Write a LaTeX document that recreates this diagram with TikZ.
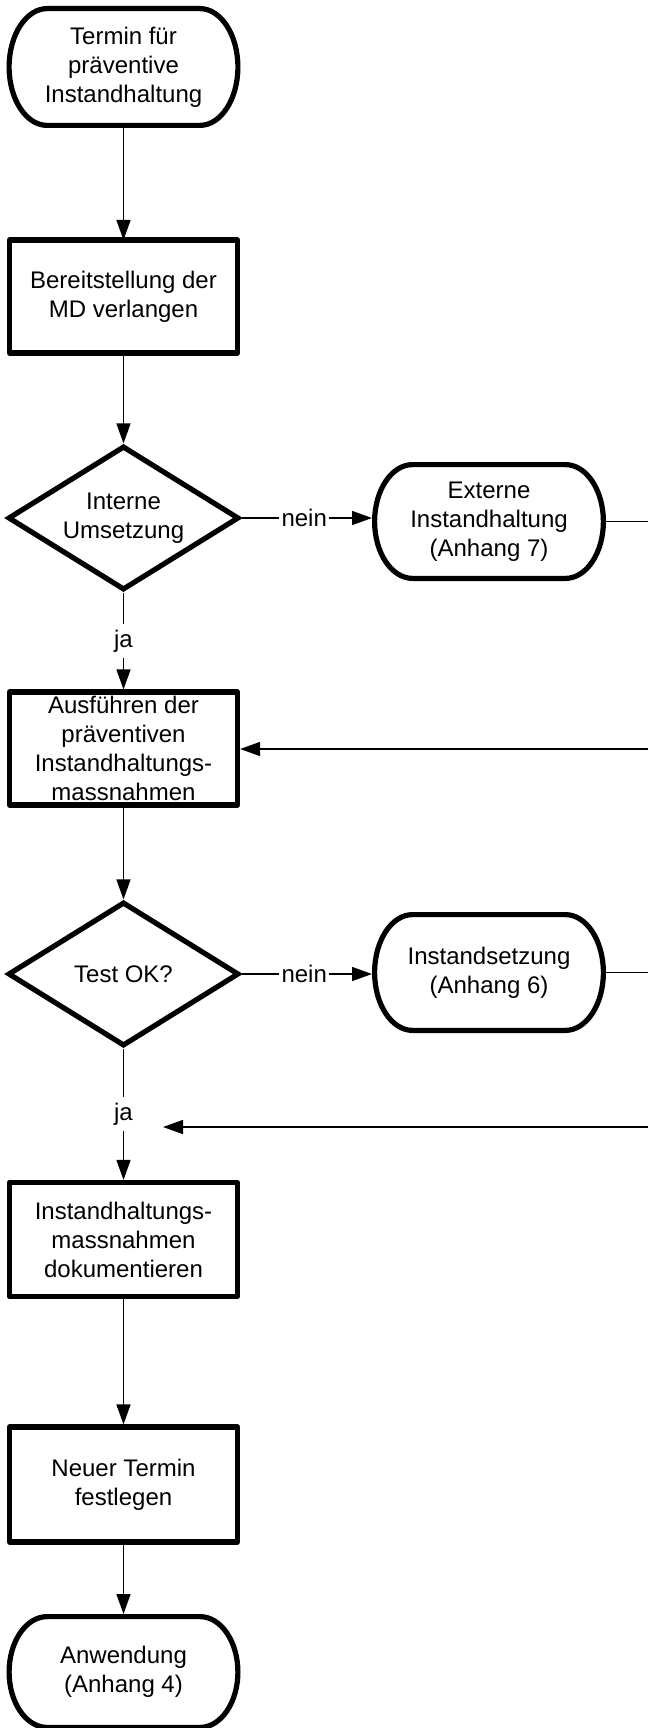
\documentclass[tikz,border=0pt]{standalone}
\usepackage{fontspec}
\setmainfont{Liberation Sans}
\usetikzlibrary{arrows.meta,shapes.geometric,calc}
\newcommand\drawterm[1]{%
  \draw[termline] let \p1=(#1.north), \p2=(#1.south), \n1={(\y1-\y2)/2} in
    ($(#1.north west)+(19pt,0pt)$) -- ($(#1.north east)+(-19pt,0pt)$)
    arc[start angle=90, end angle=-90, x radius=19pt, y radius=\n1]
    -- ($(#1.south west)+(19pt,0pt)$)
    arc[start angle=270, end angle=90, x radius=19pt, y radius=\n1] -- cycle;}
\begin{document}
\begin{tikzpicture}[x=0.5pt,y=-0.5pt,
  every node/.style={font=\fontsize{12pt}{14.5pt}\selectfont, align=center, text=black},
  termline/.style={line width=2.6pt, line join=round},
  terminal/.style={rectangle, inner sep=0pt, minimum width=114pt},
  procbox/.style={draw, line width=2.6pt, rectangle, line join=round, inner sep=0pt, minimum width=114pt, minimum height=57pt},
  decision/.style={draw, line width=2.6pt, diamond, aspect=1.6, inner sep=0pt, minimum width=115.5pt, minimum height=72pt, line join=miter},
  conn/.style={line width=0.75pt},
  arr/.style={conn, -{Triangle[length=10pt,width=7pt]}},
  lbl/.style={fill=white, inner sep=2pt}
]
\useasboundingbox (0,0) rectangle (648,1728);
\fill[white] (0,0) rectangle (648,1728);
\clip (0,0) rectangle (648,1728);

\node[terminal, minimum height=58pt] (T1) at (123.5,67) {Termin für\\präventive\\Instandhaltung};
\node[procbox, minimum height=56.5pt] (B1) at (123.5,296.5) {Bereitstellung der\\MD verlangen};
\node[decision] (D1) at (123.5,518) {Interne\\Umsetzung};
\node[terminal, minimum height=56.5pt] (T2) at (489,521.5) {Externe\\Instandhaltung\\(Anhang 7)};
\node[procbox, minimum height=56.5pt] (B2) at (123.5,748.5) {Ausführen der\\präventiven\\Instandhaltungs-\\massnahmen};
\node[decision] (D2) at (123.5,974) {Test OK?};
\node[terminal, minimum height=57.5pt] (T3) at (489,972.5) {Instandsetzung\\(Anhang 6)};
\node[procbox, minimum height=57pt] (B3) at (123.5,1239.5) {Instandhaltungs-\\massnahmen\\dokumentieren};
\node[procbox, minimum height=57.5pt] (B4) at (123.5,1484.5) {Neuer Termin\\festlegen};
\node[terminal, minimum height=55pt] (T4) at (123.5,1672) {Anwendung\\(Anhang 4)};

\drawterm{T1}
\drawterm{T2}
\drawterm{T3}
\drawterm{T4}

\coordinate (R1) at (648,521.5);
\coordinate (R2) at (648,749);
\coordinate (R3) at (648,972.5);
\coordinate (R4) at (648,1127);
\coordinate (E4) at (163,1127);

\draw[arr] (T1) -- ([yshift=-1.3pt]B1.north);
\draw[arr] (B1) -- (D1);
\draw[arr] (D1.east) -- node[lbl, pos=0.48, inner sep=1.2pt] {nein} ([xshift=-1.3pt]T2.west |- D1.east);
\draw[arr] (D1) -- node[lbl, inner ysep=3pt] {ja} (B2);
\draw[conn] (T2.east) -- (R1);
\draw[arr] (R2) -- (B2.east |- R2);
\draw[arr] (B2) -- (D2);
\draw[arr] (D2.east) -- node[lbl, pos=0.48, inner sep=1.2pt] {nein} ([xshift=-1.3pt]T3.west |- D2.east);
\draw[conn] (T3.east) -- (R3);
\draw[arr] (D2) -- node[lbl, inner ysep=3pt] {ja} (B3);
\draw[arr] (R4) -- (E4);
\draw[arr] (B3) -- (B4);
\draw[arr] (B4) -- ([yshift=1.3pt]T4.north);
\end{tikzpicture}
\end{document}
